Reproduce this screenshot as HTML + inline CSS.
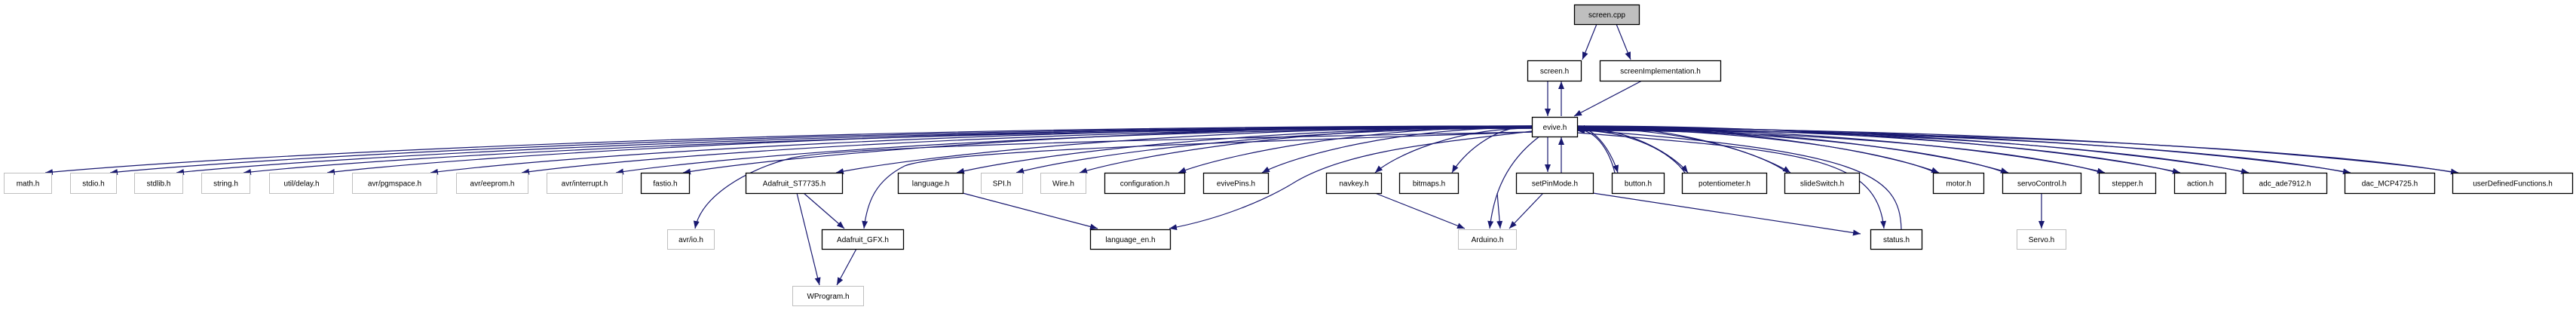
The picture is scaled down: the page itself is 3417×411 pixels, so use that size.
<!DOCTYPE html>
<html><head><meta charset="utf-8"><style>
html,body{margin:0;padding:0;background:#fff;}
svg{display:block}
text{font-family:"Liberation Sans",sans-serif;font-size:10px;}
</style></head><body>
<svg id="g" width="3417" height="411" xmlns="http://www.w3.org/2000/svg">
<defs><marker id="a" viewBox="0 0 10 8" refX="10" refY="4" markerWidth="10" markerHeight="8" markerUnits="userSpaceOnUse" orient="auto"><path d="M0,0L10,4L0,8z" fill="#191970"/></marker></defs>
<g id="e" fill="none" stroke="#191970" stroke-width="1.2"></g>
<g id="n"></g>
</svg>
<script>
var R={1:[6,32],2:[80,107],3:[155,181],4:[229,256],5:[304,330],6:[379,405]};
var N={};
function node(id,l,x1,x2,row,st){N[id]={l:l,x1:x1,x2:x2,y1:R[row][0],y2:R[row][1],st:st||'b'};}
node('cpp','screen.cpp',2088,2174,1,'f');
node('sh','screen.h',2026,2097,2);
node('si','screenImplementation.h',2122,2282,2);
node('ev','evive.h',2032,2092,3);
var r4=[['math.h',5,68,'g'],['stdio.h',93,154,'g'],['stdlib.h',178,242,'g'],['string.h',267,331,'g'],['util/delay.h',357,442,'g'],['avr/pgmspace.h',467,579,'g'],['avr/eeprom.h',605,700,'g'],['avr/interrupt.h',725,825,'g'],['fastio.h',850,914],['Adafruit_ST7735.h',989,1117],['language.h',1191,1277],['SPI.h',1301,1356,'g'],['Wire.h',1380,1440,'g'],['configuration.h',1465,1571],['evivePins.h',1596,1682],['navkey.h',1759,1832],['bitmaps.h',1856,1934],['setPinMode.h',2011,2113],['button.h',2138,2207],['potentiometer.h',2231,2343],['slideSwitch.h',2367,2466],['motor.h',2564,2631],['servoControl.h',2656,2760],['stepper.h',2784,2859],['action.h',2884,2952],['adc_ade7912.h',2975,3086],['dac_MCP4725.h',3110,3229],['userDefinedFunctions.h',3253,3412]];
r4.forEach(function(a){node(a[0],a[0],a[1],a[2],4,a[3]);});
node('avr/io.h','avr/io.h',885,947,5,'g');
node('Adafruit_GFX.h','Adafruit_GFX.h',1090,1198,5);
node('language_en.h','language_en.h',1446,1552,5);
node('Arduino.h','Arduino.h',1934,2011,5,'g');
node('status.h','status.h',2481,2549,5);
node('Servo.h','Servo.h',2675,2740,5,'g');
node('WProgram.h','WProgram.h',1051,1145,6,'g');
var NS='http://www.w3.org/2000/svg',E=document.getElementById('e'),G=document.getElementById('n');
function path(d,arrow){var p=document.createElementNS(NS,'path');p.setAttribute('d',d);if(arrow!==false)p.setAttribute('marker-end','url(#a)');E.appendChild(p);}
function line(x1,y1,x2,y2){path('M'+x1+','+y1+'L'+x2+','+y2);}
for(var k in N){var n=N[k];var r=document.createElementNS(NS,'rect');
r.setAttribute('x',n.x1+.5);r.setAttribute('y',n.y1+.5);r.setAttribute('width',n.x2-n.x1);r.setAttribute('height',n.y2-n.y1);
r.setAttribute('fill',n.st=='f'?'#bfbfbf':'#fff');r.setAttribute('stroke',n.st=='g'?'#bfbfbf':'#000');r.setAttribute('stroke-width',n.st=='g'?1:1.3);G.appendChild(r);
var t=document.createElementNS(NS,'text');t.setAttribute('x',(n.x1+n.x2)/2+.5);t.setAttribute('y',(n.y1+n.y2)/2+4);t.setAttribute('text-anchor','middle');t.textContent=n.l;G.appendChild(t);}
line(2118,32,2099,79);line(2144,32,2163,79);
line(2178,107,2088,154);
line(2053,107,2053,154);path('M2071,154 L2071,108');
var cy=168;
var cyc={'button.h':1,'potentiometer.h':1,'slideSwitch.h':1,'motor.h':1,'servoControl.h':1,'stepper.h':1,'action.h':1,'adc_ade7912.h':1,'dac_MCP4725.h':1,'userDefinedFunctions.h':1};
r4.forEach(function(a,i){var n=N[a[0]];var tx,ty=229,sx,sy;
 if(a[0]=='setPinMode.h'){line(2053,181,2053,228);path('M2071,229 L2071,182');return;}
 if(n.x2<2040){tx=n.x2-8;sx=2032;sy=cy+(i%4)-1;}
 else{tx=n.x1+8;sx=2092;sy=cy+(i%4)-1;}
 var dx=tx-sx;
 var d='M'+sx+','+sy+' C'+(sx+dx*0.5)+','+sy+' '+(tx-dx*0.12)+','+(ty-22)+' '+tx+','+ty;
 path(d);
 if(cyc[a[0]]){var bx=tx+(dx>0?-4:4);var d2='M'+bx+','+(ty)+' C'+(bx-dx*0.12)+','+(ty-26)+' '+(sx+dx*0.5)+','+(sy+3)+' '+sx+','+(sy+3);path(d2);}
});
line(1986,256,1990,303);
path('M2032,175 C1500,185 1100,195 1048,210 C990,225 930,260 922,303');
line(1066,256,1120,303);line(1057,256,1087,378);
path('M2032,175 C1600,190 1250,200 1200,220 C1160,240 1150,270 1146,303');
line(1136,330,1110,378);
line(1277,256,1456,303);
path('M2032,174 C1900,190 1790,200 1720,240 C1680,265 1620,290 1551,303');
line(1824,256,1943,303);
path('M2042,181 C1990,220 1980,270 1976,303');
line(2047,256,2002,303);
line(2113,256,2468,310);
path('M2092,176 C2400,200 2490,210 2499,303');path('M2522,304 C2520,230 2470,200 2092,172');
line(2708,256,2708,303);
</script>
</body></html>
